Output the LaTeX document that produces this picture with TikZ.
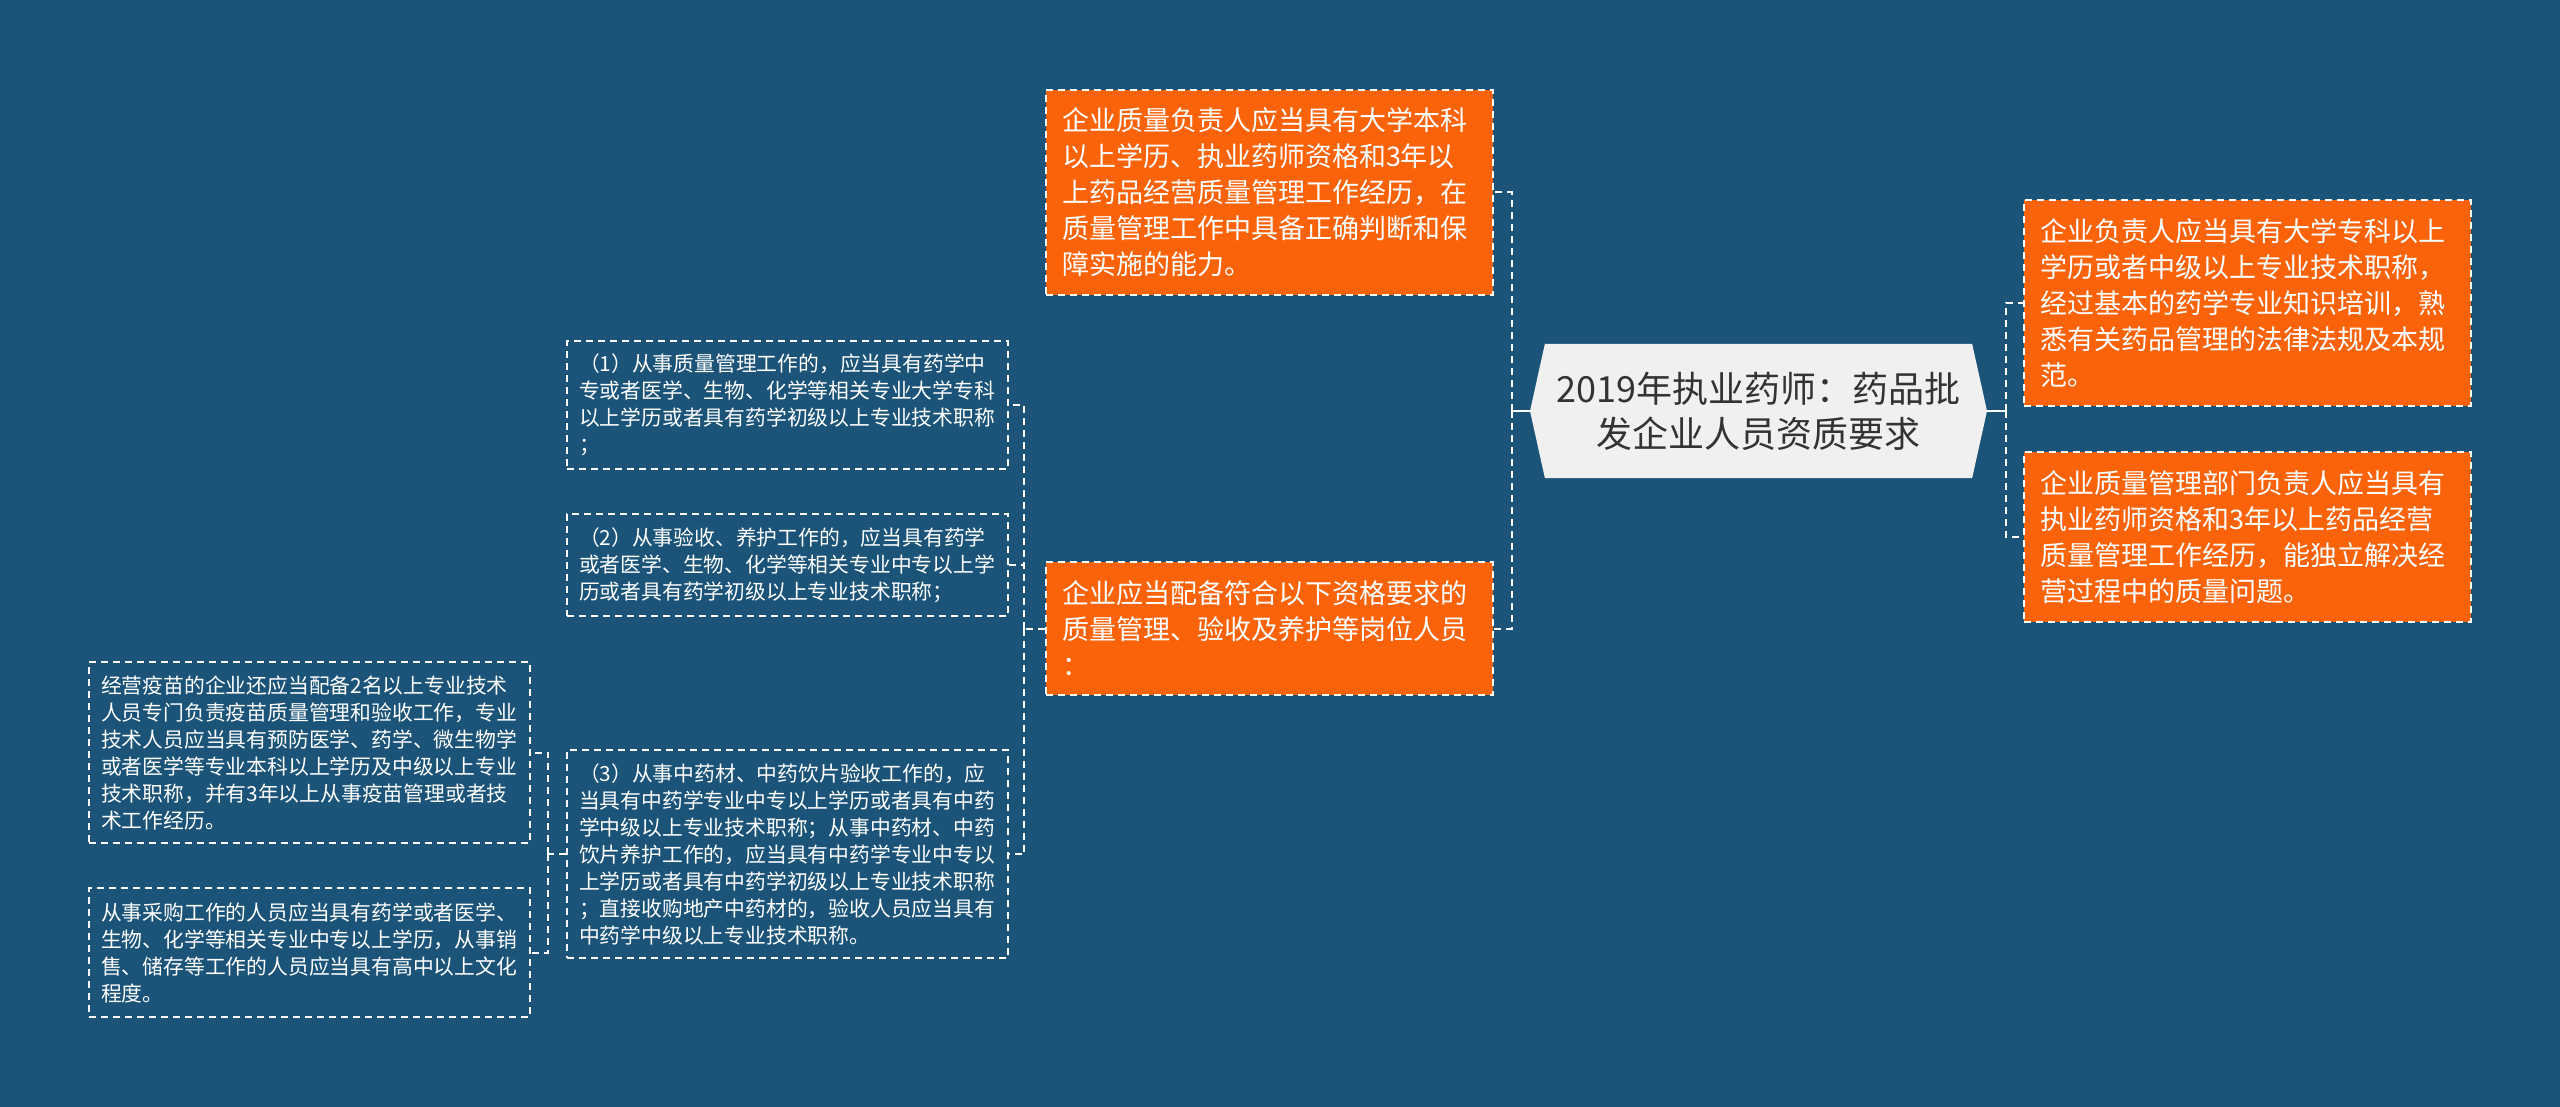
\documentclass[tikz,border=0pt]{standalone}
\usepackage{fontspec}
\newfontfamily\cjk{Noto Sans CJK SC}
\usetikzlibrary{shapes.symbols,positioning}

\definecolor{bgblue}{RGB}{27,84,120}
\definecolor{leaforange}{RGB}{250,99,10}
\definecolor{rootgray}{RGB}{240,240,240}
\definecolor{roottext}{RGB}{51,51,51}

\tikzset{
  rootnode/.style={signal, signal to=west and east, signal pointer angle=155,
    fill=rootgray, text=roottext, align=center, minimum width=457pt, minimum height=134pt,
    font=\cjk\fontsize{36}{45}\selectfont},
  orangebox/.style={rectangle, fill=leaforange, draw=white, line width=1.5pt,
    dash pattern=on 7pt off 5pt, text=white, align=left, inner xsep=16pt,
    text width=415pt, font=\cjk\fontsize{27}{36}\selectfont},
  dashbox/.style={rectangle, draw=white, line width=1.5pt, dash pattern=on 7pt off 5pt,
    text=white, align=left, inner xsep=12pt, text width=417pt,
    font=\cjk\fontsize{20.8}{27}\selectfont},
  link/.style={draw=white, line width=2pt, dash pattern=on 7pt off 5pt},
  stub/.style={draw=white, line width=2pt}
}

\begin{document}
\begin{tikzpicture}[x=1pt,y=-1pt]

  \fill[bgblue] (0,0) rectangle (2560,1107);

  \node[rootnode] (root) at (1758.5,411) {2019年执业药师：药品批\\发企业人员资质要求};

  % right side
  \node[orangebox, minimum height=206pt] (r1) at (2247.5,303)
    {企业负责人应当具有大学专科以上\\学历或者中级以上专业技术职称，\\经过基本的药学专业知识培训，熟\\悉有关药品管理的法律法规及本规\\范。};
  \node[orangebox, minimum height=170pt] (r2) at (2247.5,537)
    {企业质量管理部门负责人应当具有\\执业药师资格和3年以上药品经营\\质量管理工作经历，能独立解决经\\营过程中的质量问题。};

  % left side
  \node[orangebox, minimum height=205pt] (qa) at (1269.5,192.5)
    {企业质量负责人应当具有大学本科\\以上学历、执业药师资格和3年以\\上药品经营质量管理工作经历，在\\质量管理工作中具备正确判断和保\\障实施的能力。};
  \node[orangebox, minimum height=133pt] (qb) at (1269.5,628.5)
    {企业应当配备符合以下资格要求的\\质量管理、验收及养护等岗位人员\\：};

  \node[dashbox, minimum height=128pt] (b1) at (787.5,405)
    {（1）从事质量管理工作的，应当具有药学中\\专或者医学、生物、化学等相关专业大学专科\\以上学历或者具有药学初级以上专业技术职称\\；};
  \node[dashbox, minimum height=102pt] (b2) at (787.5,565)
    {（2）从事验收、养护工作的，应当具有药学\\或者医学、生物、化学等相关专业中专以上学\\历或者具有药学初级以上专业技术职称；};
  \node[dashbox, minimum height=208pt] (b3) at (787.5,854)
    {（3）从事中药材、中药饮片验收工作的，应\\当具有中药学专业中专以上学历或者具有中药\\学中级以上专业技术职称；从事中药材、中药\\饮片养护工作的，应当具有中药学专业中专以\\上学历或者具有中药学初级以上专业技术职称\\；直接收购地产中药材的，验收人员应当具有\\中药学中级以上专业技术职称。};

  \node[dashbox, minimum height=181pt] (vac) at (309.5,752.5)
    {经营疫苗的企业还应当配备2名以上专业技术\\人员专门负责疫苗质量管理和验收工作，专业\\技术人员应当具有预防医学、药学、微生物学\\或者医学等专业本科以上学历及中级以上专业\\技术职称，并有3年以上从事疫苗管理或者技\\术工作经历。};
  \node[dashbox, minimum height=129pt] (buy) at (309.5,952.5)
    {从事采购工作的人员应当具有药学或者医学、\\生物、化学等相关专业中专以上学历，从事销\\售、储存等工作的人员应当具有高中以上文化\\程度。};

  % connectors
  \draw[stub] (root.west) -- ++(-18,0) coordinate (ls);
  \draw[link] (ls) |- (qa.east);
  \draw[link] (ls) |- (qb.east);

  \draw[stub] (root.east) -- ++(19,0) coordinate (rs);
  \draw[link] (rs) |- (r1.west);
  \draw[link] (rs) |- (r2.west);

  \draw[link] (qb.west) -- ++(-21,0) coordinate (bs);
  \draw[link] (bs) |- (b1.east);
  \draw[link] (bs) |- (b2.east);
  \draw[link] (bs) |- (b3.east);

  \draw[link] (b3.west) -- ++(-18,0) coordinate (vs);
  \draw[link] (vs) |- (vac.east);
  \draw[link] (vs) |- (buy.east);

\end{tikzpicture}
\end{document}
